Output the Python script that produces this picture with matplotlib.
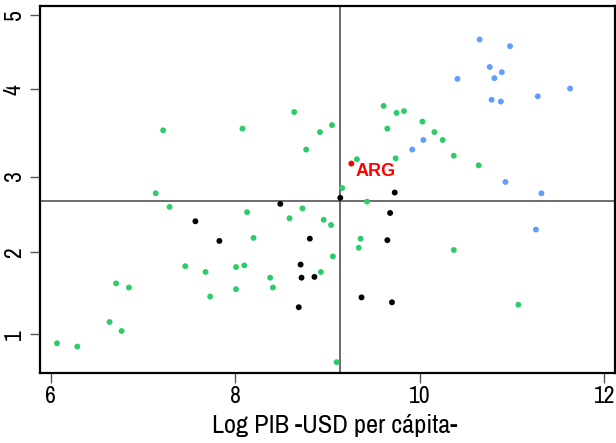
import numpy as np
import matplotlib
matplotlib.use("Agg")
import matplotlib.pyplot as plt
from matplotlib import font_manager

# ---------------- data ----------------
green_x = [7.22, 8.08, 8.64, 8.77, 8.92, 7.14, 9.05, 9.61, 9.75, 9.83, 10.03, 9.65,
           10.16, 10.25, 10.37, 10.64, 9.32, 9.74, 9.16, 7.29, 8.13, 8.73, 8.59, 8.20,
           7.46, 7.68, 8.01, 8.10, 7.73, 8.01, 8.38, 8.41, 6.71, 6.85, 6.64, 6.77,
           6.07, 6.29, 8.93, 9.43, 8.96, 9.04, 9.36, 9.34, 9.06, 10.37, 11.07, 9.10]
green_y = [3.53, 3.55, 3.74, 3.31, 3.51, 2.78, 3.59, 3.81, 3.73, 3.75, 3.63, 3.55,
           3.51, 3.42, 3.24, 3.13, 3.20, 3.21, 2.85, 2.60, 2.53, 2.58, 2.45, 2.19,
           1.83, 1.76, 1.82, 1.84, 1.46, 1.55, 1.69, 1.57, 1.62, 1.57, 1.15, 1.04,
           0.89, 0.85, 1.76, 2.67, 2.43, 2.36, 2.18, 2.06, 1.95, 2.03, 1.36, 0.66]

black_x = [7.57, 7.83, 8.49, 8.81, 8.71, 8.72, 8.86, 8.69, 9.14, 9.73, 9.68, 9.65, 9.37, 9.70]
black_y = [2.41, 2.15, 2.64, 2.18, 1.85, 1.69, 1.70, 1.33, 2.72, 2.79, 2.52, 2.16, 1.45, 1.39]

blue_x = [10.65, 10.98, 10.76, 10.89, 10.81, 10.41, 11.63, 11.28, 10.78, 10.88,
          10.04, 9.92, 10.93, 11.32, 11.26]
blue_y = [4.67, 4.58, 4.30, 4.23, 4.15, 4.14, 4.01, 3.92, 3.88, 3.86,
          3.42, 3.31, 2.93, 2.78, 2.30]

arg_x = [9.26]
arg_y = [3.15]
arg_label = "ARG"

vline_x = 9.135
hline_y = 2.68

x_ticks = [6, 8, 10, 12]
y_ticks = [1, 2, 3, 4, 5]
x_label = "Log PIB -USD per cápita-"

# ---------------- fonts ----------------
narrow_props = None
for f in font_manager.fontManager.ttflist:
    nm = f.name.lower()
    if ("narrow" in nm or "condensed" in nm) and "mono" not in nm and "serif" not in nm.replace("sans", ""):
        if f.weight in (400, "normal", "regular") and f.style == "normal":
            narrow_props = font_manager.FontProperties(fname=f.fname)
            break
if narrow_props is None:
    for f in font_manager.fontManager.ttflist:
        st = str(f.stretch)
        if st in ("condensed", "semi-condensed", "extra-condensed") and "Mono" not in f.name \
                and "Serif" not in f.name and f.style == "normal" and f.weight in (400, "normal"):
            narrow_props = font_manager.FontProperties(fname=f.fname)
            break

plt.rcParams["font.family"] = ["Liberation Sans", "DejaVu Sans"]
if narrow_props is not None:
    tick_fp = narrow_props.copy(); tick_fp.set_size(17)
    lab_fp = narrow_props.copy(); lab_fp.set_size(19)
else:
    tick_fp = font_manager.FontProperties(family=["Liberation Sans", "DejaVu Sans"], size=16)
    lab_fp = font_manager.FontProperties(family=["Liberation Sans", "DejaVu Sans"], size=16)

# ---------------- figure ----------------
fig = plt.figure(figsize=(6.16, 4.43), dpi=100)
ax = fig.add_axes([40/616, (443-373.3)/443, 575/616, (373.3-5.7)/443])

# y axis of the reference is not evenly spaced; reproduce with a piecewise scale
_kv = [0, 1, 2, 3, 4, 5, 6]
_kp = [-416.3, -334.3, -252.3, -176.7, -89.3, -15.0, 58.7]
def _fwd(v):
    return np.interp(v, _kv, _kp)
def _inv(p):
    return np.interp(p, _kp, _kv)
ax.set_yscale("function", functions=(_fwd, _inv))

ax.axvline(vline_x, color="#444444", lw=1.1, zorder=1)
ax.axhline(hline_y, color="#444444", lw=1.1, zorder=1)

ms = 18
ax.scatter(green_x, green_y, s=ms, color="#2dcc6b", edgecolors="none", zorder=3)
ax.scatter(black_x, black_y, s=ms, color="black", edgecolors="none", zorder=3)
ax.scatter(blue_x, blue_y, s=ms, color="#619cff", edgecolors="none", zorder=3)
ax.scatter(arg_x, arg_y, s=ms, color="#ff0000", edgecolors="none", zorder=4)
ax.annotate(arg_label, (arg_x[0], arg_y[0]), xytext=(3, -6), textcoords="offset points",
            color="#ff0000", fontsize=13, fontweight="bold", family=["Liberation Sans", "DejaVu Sans"],
            ha="left", va="center", zorder=5)

ax.set_xlim(5.886, 12.117)
ax.set_ylim(0.524, 5.126)
ax.set_xticks(x_ticks)
ax.set_yticks(y_ticks)
ax.set_xticklabels([str(t) for t in x_ticks], fontproperties=tick_fp)
ax.set_yticklabels([str(t) for t in y_ticks], rotation=90, va="center", fontproperties=tick_fp)
ax.minorticks_off()

ax.tick_params(axis="both", direction="out", length=7, width=1, color="#555555",
               labelcolor="black")
ax.tick_params(axis="x", pad=2)
ax.tick_params(axis="y", pad=4)

for s in ax.spines.values():
    s.set_linewidth(1.6)
    s.set_color("black")

ax.set_xlabel(x_label, fontproperties=lab_fp, labelpad=6)
ax.xaxis.set_label_coords(0.513, -0.11)

fig.savefig("out.png", dpi=100)
